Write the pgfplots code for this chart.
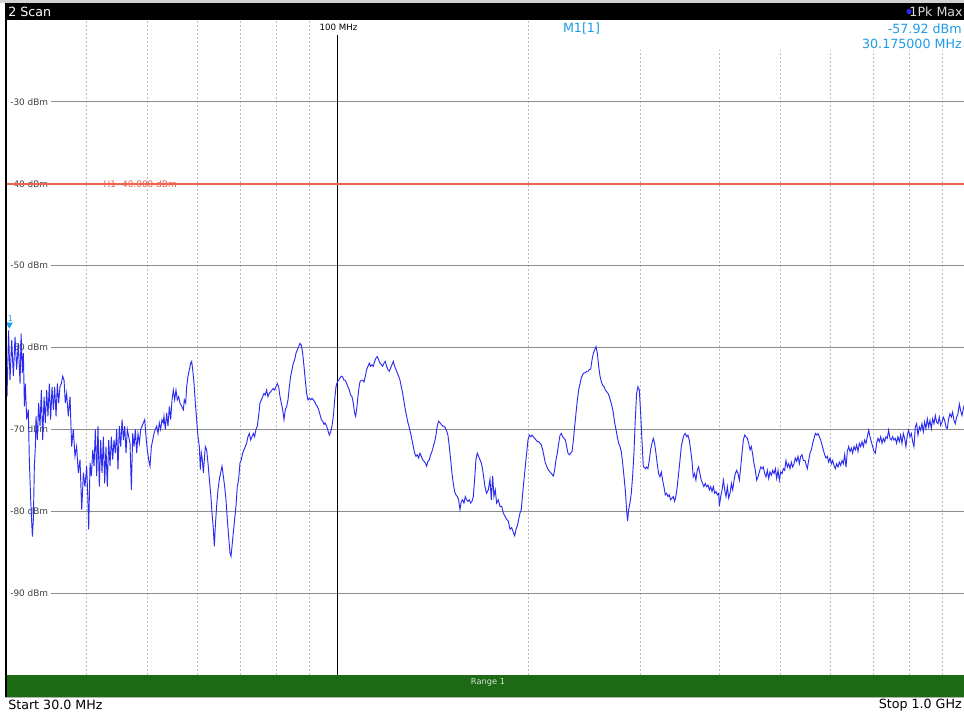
\documentclass[border=0pt]{standalone}
\usepackage{pgfplots}
\pgfplotsset{compat=1.18}
\usepackage{fontspec}
\setmainfont{DejaVu Sans}
\definecolor{trace}{HTML}{2B2BF2}
\definecolor{gridgray}{HTML}{8C8C8C}
\definecolor{dashgray}{HTML}{BDBDBD}
\definecolor{hlred}{RGB}{242,96,78}
\definecolor{txtred}{RGB}{232,90,72}
\definecolor{mkblue}{HTML}{1E9BE6}
\definecolor{greenbar}{HTML}{1C6A14}
\newcommand{\lblf}{\fontsize{6.7}{8}\selectfont}
\newcommand{\mainf}{\fontsize{9.5}{11}\selectfont}
\begin{document}
\begin{tikzpicture}
\path[use as bounding box] (-5.25pt,-27pt) rectangle (717.75pt,506.25pt);
\clip (-5.25pt,-27pt) rectangle (717.75pt,506.25pt);
\fill[white] (-5.25pt,-27pt) rectangle (717.75pt,506.25pt);
\begin{axis}[at={(0pt,0pt)}, anchor=south west, scale only axis,
  width=717.75pt, height=491.25pt,
  xmode=log, xmin=30, xmax=975, ymin=-100, ymax=-20,
  axis line style={draw=none},
  xtick={40,50,60,70,80,90,200,300,400,500,600,700,800,900},
  ytick={-90,-80,-70,-60,-50,-30},
  xticklabels={}, yticklabels={},
  major tick length=0pt, minor tick num=0,
  xmajorgrids, ymajorgrids,
  x grid style={dash pattern=on 1.5pt off 1.5pt, color=dashgray, line width=0.5pt},
  y grid style={color=gridgray, line width=0.9pt},
  clip=true]
% white box behind marker readout
\fill[white] (axis cs:204.8,-23.7) rectangle (axis cs:975,-20);
% level labels
\foreach \v in {-30,-40,-50,-60,-70,-80,-90}{
  \edef\tmp{\noexpand\node[anchor=west, fill=white, inner xsep=2.25pt, inner ysep=1pt, font=\noexpand\lblf, text=black!75] at (axis cs:30,\v) {\v\space dBm};}
  \tmp
}
\node[anchor=west, inner xsep=0pt, font=\lblf, text=txtred] at (axis cs:42.6,-40) {H1 -40.000 dBm};
% 100 MHz line
\addplot[color=black, line width=0.75pt] coordinates {(100,-100) (100,-21.8)};
\end{axis}
% overlay axis: display line and trace drawn on top of the labels
\begin{axis}[at={(0pt,0pt)}, anchor=south west, scale only axis,
  width=717.75pt, height=491.25pt,
  xmode=log, xmin=30, xmax=975, ymin=-100, ymax=-20, hide axis, clip=true]
\addplot[color=hlred, line width=1.4pt] coordinates {(30,-40) (975,-40)};
\addplot[color=trace, line width=0.7pt] coordinates {
(30.00,-66.0) (30.175,-57.9) (30.33,-64.0) (30.52,-59.1) (30.70,-63.5) (30.89,-58.7) (31.07,-62.7) (31.26,-59.5) (31.46,-64.4) (31.58,-58.3) (31.73,-63.1) (31.84,-60.7) (31.96,-67.2) (32.07,-64.4) (32.23,-68.8) (32.42,-67.6) (32.54,-73.7) (32.70,-78.6) (32.90,-83.1) (33.02,-81.0) (33.14,-74.5) (33.26,-72.1) (33.34,-68.4) (33.50,-71.3) (33.66,-66.8) (33.83,-69.6) (33.99,-65.2) (34.16,-71.3) (34.33,-66.0) (34.49,-69.2) (34.66,-65.2) (34.82,-68.4) (34.99,-64.4) (35.16,-68.8) (35.34,-64.8) (35.51,-67.6) (35.68,-64.8) (35.86,-68.4) (36.03,-64.4) (36.20,-66.8) (36.38,-64.8) (36.56,-64.4) (36.74,-63.5) (36.92,-64.0) (37.09,-66.8) (37.27,-65.6) (37.50,-68.4) (37.73,-66.0) (37.96,-72.1) (38.19,-70.0) (38.42,-73.3) (38.65,-72.1) (38.89,-75.3) (39.13,-73.7) (39.37,-79.8) (39.61,-75.3) (39.84,-77.0) (40.08,-74.5) (40.23,-77.8) (40.38,-82.2) (40.58,-74.1) (40.78,-75.7) (40.98,-72.5) (41.17,-74.5) (41.37,-70.0) (41.57,-75.7) (41.77,-69.6) (41.97,-77.0) (42.18,-71.3) (42.39,-75.3) (42.59,-70.9) (42.80,-76.6) (43.00,-72.1) (43.21,-77.0) (43.43,-71.3) (43.64,-74.5) (43.85,-70.9) (44.07,-73.7) (44.28,-71.3) (44.49,-72.9) (44.71,-70.0) (44.92,-74.9) (45.14,-69.6) (45.37,-72.1) (45.59,-68.8) (45.81,-71.3) (46.03,-69.6) (46.25,-72.9) (46.47,-70.0) (46.70,-70.9) (46.93,-71.7) (47.16,-77.4) (47.39,-70.5) (47.62,-72.1) (47.85,-70.0) (48.08,-72.9) (48.31,-70.5) (48.55,-71.7) (48.79,-70.0) (49.03,-69.6) (49.27,-69.2) (49.51,-68.8) (49.74,-70.9) (49.98,-72.5) (50.23,-73.7) (50.47,-74.5) (50.72,-72.1) (50.96,-71.3) (51.21,-70.5) (51.46,-70.0) (51.71,-69.6) (51.96,-70.5) (52.21,-69.2) (52.46,-70.0) (52.72,-68.8) (52.97,-69.2)
(53.10,-68.4) (53.36,-70.0) (53.62,-68.0) (53.88,-69.6) (54.15,-67.2) (54.41,-68.8) (54.68,-66.4) (54.94,-65.2) (55.21,-66.4) (55.47,-65.2) (55.74,-66.4) (56.02,-66.0) (56.29,-66.8) (56.63,-67.2) (56.98,-67.6) (57.18,-66.4) (57.46,-66.8) (57.67,-64.8) (57.95,-63.5) (58.24,-62.7) (58.52,-61.9) (58.73,-61.7) (58.95,-62.7) (59.24,-64.4) (59.52,-66.8) (59.80,-68.8) (60.10,-70.9) (60.39,-72.1) (60.61,-74.9) (60.83,-72.9) (61.05,-73.7) (61.28,-75.3) (61.50,-73.7) (61.72,-72.1) (62.02,-72.5) (62.32,-74.1) (62.63,-76.1) (62.93,-77.8) (63.24,-80.2) (63.55,-82.2) (63.78,-84.3) (64.01,-81.8) (64.31,-79.4) (64.63,-77.4) (64.95,-76.1) (65.27,-75.3) (65.58,-74.5) (65.90,-75.7) (66.22,-77.0) (66.54,-78.6) (66.86,-81.0) (67.19,-83.1) (67.52,-85.1) (67.77,-85.5) (68.01,-84.3) (68.34,-82.6) (68.67,-81.0) (69.00,-79.4) (69.33,-77.0) (69.68,-76.1) (70.02,-74.1) (70.36,-73.7) (70.70,-72.9) (71.05,-72.5) (71.39,-72.1) (71.73,-71.7) (72.08,-70.9) (72.43,-70.5) (72.79,-71.3) (73.14,-70.9) (73.50,-70.5) (73.85,-70.9) (74.21,-70.0) (74.57,-69.6) (74.93,-68.4) (75.30,-66.8) (75.67,-66.4) (76.04,-66.0) (76.41,-65.6) (76.77,-65.8) (77.14,-65.2) (77.52,-66.0) (77.90,-65.6) (78.29,-65.4) (78.66,-65.2) (79.05,-65.0) (79.43,-65.2) (79.81,-64.8) (80.19,-64.4) (80.59,-64.8) (80.98,-66.0) (81.38,-66.8) (81.78,-67.6) (82.17,-68.8) (82.56,-67.6) (82.96,-67.2) (83.37,-66.4) (83.78,-64.8) (84.19,-63.5) (84.60,-62.7) (85.01,-61.9) (85.42,-61.5) (85.83,-60.7) (86.24,-60.3) (86.67,-59.9) (87.09,-59.5) (87.51,-59.7) (87.94,-60.7) (88.37,-62.3) (88.79,-64.0) (89.22,-65.6) (89.66,-66.4) (90.10,-66.2) (90.54,-66.4) (90.98,-66.2) (91.43,-66.4) (91.87,-66.6) (92.30,-67.0) (92.75,-67.2) (93.21,-67.6) (93.67,-68.2) (94.12,-68.8) (94.58,-69.0) (95.04,-69.4)
(95.38,-69.2) (95.95,-69.6) (96.54,-70.3) (96.90,-70.7) (97.37,-70.3) (97.84,-69.6) (98.32,-68.4) (98.80,-66.4) (99.27,-64.8) (99.75,-64.2) (100.24,-64.0) (100.73,-63.7) (101.23,-63.5) (101.72,-63.6) (102.21,-64.0) (102.71,-64.0) (103.19,-64.4) (103.70,-64.8) (104.21,-65.2) (104.71,-65.8) (105.22,-66.0) (105.73,-66.8) (106.24,-68.0) (106.63,-68.4) (107.01,-67.6) (107.40,-66.4) (107.80,-65.2) (108.33,-64.2) (108.86,-64.0) (109.39,-64.0) (109.92,-64.2) (110.45,-63.5) (110.98,-62.7) (111.52,-62.3) (112.06,-61.9) (112.61,-62.3) (113.16,-62.1) (113.71,-62.3) (114.26,-61.7) (114.81,-61.3) (115.36,-61.1) (115.93,-61.5) (116.50,-61.9) (117.07,-62.1) (117.64,-62.3) (118.21,-61.9) (118.78,-61.7) (119.35,-62.3) (119.93,-62.7) (120.52,-62.9) (121.11,-62.5) (121.71,-62.1) (122.30,-61.7) (122.89,-62.3) (123.48,-62.7) (124.07,-63.1) (124.69,-63.5) (125.30,-64.0) (125.91,-64.8) (126.52,-65.6) (127.13,-66.6) (127.74,-67.6) (128.36,-68.4) (128.99,-69.2) (129.62,-69.8) (130.26,-70.5) (130.89,-71.3) (131.52,-72.1) (132.16,-72.9) (132.79,-73.3) (133.43,-73.1) (134.09,-73.5) (134.75,-72.9) (135.41,-73.3) (136.07,-73.7) (136.73,-73.9) (137.39,-74.1) (138.05,-74.5) (138.72,-73.9) (139.40,-73.7) (140.09,-73.1) (140.77,-72.7) (141.46,-72.1) (142.14,-71.5) (142.82,-70.7) (143.50,-69.6) (144.21,-69.0) (144.92,-69.2) (145.63,-69.4) (146.33,-69.6) (147.04,-69.6) (147.75,-69.8) (148.46,-70.2) (149.18,-70.7) (149.92,-72.1) (150.65,-73.7) (151.38,-75.3) (152.11,-76.6) (152.85,-77.6) (153.59,-78.0) (154.33,-78.2) (155.09,-78.6) (155.85,-79.8) (156.61,-78.8) (157.37,-78.6) (158.14,-79.0) (158.90,-78.2) (159.66,-78.6) (160.44,-78.8) (161.23,-78.6) (162.02,-79.0) (162.81,-78.8) (163.60,-78.2) (164.39,-76.1) (165.18,-73.7) (165.97,-72.9) (166.79,-73.3) (167.61,-73.7) (168.43,-74.1) (169.25,-74.9) (170.07,-76.1)
(170.68,-77.0) (171.71,-77.8) (172.76,-77.4) (173.82,-76.1) (174.67,-78.6) (175.52,-75.7) (176.37,-78.2) (177.22,-77.4) (178.07,-79.0) (179.16,-78.6) (180.26,-79.4) (181.37,-79.4) (182.46,-80.2) (183.56,-80.6) (184.71,-81.0) (185.84,-81.2) (186.98,-82.2) (188.12,-82.0) (189.27,-82.6) (190.19,-83.0) (191.10,-82.2) (192.01,-81.8) (192.97,-81.0) (193.91,-80.2) (194.85,-79.8) (195.80,-77.8) (196.75,-76.1) (197.70,-74.5) (198.64,-72.9) (199.62,-71.3) (200.60,-70.7) (201.58,-70.9) (202.57,-70.7) (203.55,-70.9) (204.52,-71.1) (205.51,-71.3) (206.50,-71.5) (207.53,-71.5) (208.54,-71.7) (209.56,-71.9) (210.58,-72.5) (211.60,-73.3) (212.61,-74.1) (213.64,-74.5) (214.68,-74.9) (215.73,-75.1) (216.80,-75.3) (217.85,-75.5) (218.90,-75.7) (219.96,-74.9) (221.02,-73.7) (222.08,-72.9) (223.18,-71.7) (224.28,-70.7) (225.39,-70.5) (226.47,-70.9) (227.56,-71.1) (228.66,-71.3) (229.76,-72.1) (230.86,-72.9) (232.00,-73.1) (233.16,-72.9) (234.29,-72.7) (235.43,-71.3) (236.56,-69.6) (237.70,-68.0) (238.84,-66.4) (240.02,-65.2) (241.20,-64.4) (242.37,-63.7) (243.56,-63.3) (244.73,-63.1) (245.91,-63.1) (247.09,-62.9) (248.30,-62.9) (249.52,-62.7) (250.75,-62.6) (251.97,-61.5) (253.19,-60.7) (254.42,-60.3) (255.63,-59.9) (256.86,-60.7) (258.13,-62.3) (259.40,-63.5) (260.66,-64.2) (261.92,-64.6) (263.20,-64.8) (264.47,-65.2) (265.73,-65.4) (267.04,-65.6) (268.35,-66.0) (269.66,-66.6) (270.97,-67.2) (272.28,-68.0) (273.59,-69.2) (274.90,-70.0) (276.19,-70.9) (277.56,-71.7) (278.92,-72.1) (280.28,-72.7) (281.64,-74.1) (282.99,-75.7) (284.35,-77.4) (285.73,-79.8) (286.75,-81.2) (287.84,-79.8) (289.25,-79.0) (290.66,-77.8) (292.07,-75.7) (293.48,-72.9) (294.89,-68.8) (296.31,-65.6) (297.76,-64.8) (299.23,-65.2) (300.70,-68.0) (302.15,-71.3) (303.61,-74.5)
(305.83,-74.8) (307.29,-74.6) (308.78,-74.8) (310.30,-73.8) (311.82,-72.5) (313.35,-71.7) (314.87,-71.1) (316.38,-71.7) (317.91,-72.9) (319.44,-74.2) (321.02,-75.4) (322.60,-75.8) (324.17,-75.2) (325.75,-76.2) (327.32,-77.0) (328.89,-78.0) (330.47,-77.8) (332.09,-78.2) (333.72,-78.0) (335.35,-78.6) (336.97,-78.4) (338.60,-78.2) (340.23,-78.8) (341.85,-78.2) (343.54,-77.0) (345.24,-75.4) (346.93,-73.8) (348.62,-72.1) (350.32,-71.3) (352.00,-70.7) (353.69,-70.5) (355.41,-70.9) (357.14,-70.7) (358.89,-71.3) (360.64,-72.5) (362.39,-73.8) (364.14,-75.8) (365.90,-75.4) (367.64,-76.2) (369.45,-75.0) (371.28,-74.6) (373.10,-75.4) (374.92,-76.2) (376.74,-76.6) (378.56,-77.0) (380.38,-76.6) (382.20,-77.0) (384.21,-76.8) (386.10,-77.4) (387.99,-77.0) (389.87,-77.6) (391.76,-77.0) (393.66,-77.8) (395.53,-77.6) (397.47,-78.0) (399.44,-77.8) (400.41,-79.4) (402.37,-78.2) (404.33,-77.4) (406.28,-76.2) (408.25,-77.4) (410.21,-78.2) (412.19,-77.0) (414.22,-78.4) (416.25,-77.8) (418.28,-76.6) (420.32,-77.4) (422.36,-76.2) (424.39,-75.4) (426.43,-75.0) (428.51,-75.4) (430.62,-76.2) (432.72,-74.6) (434.83,-72.9) (436.93,-71.3) (439.04,-70.7) (441.16,-70.9) (443.28,-71.1) (445.47,-71.7) (447.65,-72.5) (449.83,-72.1) (452.02,-73.1) (454.22,-74.2) (456.40,-75.0) (458.59,-76.2) (460.84,-75.8) (463.10,-75.2) (465.37,-74.6) (467.64,-74.8) (469.90,-74.6) (472.17,-75.4) (474.44,-75.8) (476.73,-75.0) (479.08,-76.0) (481.43,-75.2) (483.78,-75.6) (486.13,-75.0) (488.49,-75.4) (490.84,-74.8) (493.20,-76.0) (495.61,-75.0) (498.05,-76.2) (500.49,-75.2) (502.92,-75.4) (505.35,-74.8) (507.79,-75.0) (510.24,-73.8) (512.69,-74.6) (515.22,-74.2) (517.74,-74.8) (520.27,-74.0) (522.79,-74.6) (525.30,-74.2) (527.82,-73.5) (530.40,-73.9) (533.05,-73.3) (535.66,-74.2) (538.25,-73.3) (540.87,-73.1) (543.48,-73.8)
(546.76,-73.8) (549.38,-74.4) (551.37,-74.8) (554.10,-73.8) (556.82,-72.9) (559.54,-72.5) (562.26,-71.7) (564.98,-71.1) (567.70,-70.5) (570.43,-70.7) (573.22,-70.5) (576.03,-70.9) (578.85,-71.3) (581.66,-71.9) (584.48,-72.5) (587.29,-73.1) (590.13,-73.5) (592.97,-73.3) (595.90,-74.0) (598.83,-73.5) (601.75,-74.2) (604.68,-73.8) (607.60,-74.4) (610.52,-74.8) (613.46,-74.2) (616.45,-74.6) (619.48,-74.0) (622.51,-74.4) (625.55,-73.8) (628.58,-74.2) (631.61,-73.1) (634.66,-74.6) (637.71,-72.7) (640.87,-72.1) (644.01,-72.7) (647.15,-72.3) (650.30,-72.9) (653.44,-72.1) (656.59,-72.5) (659.74,-71.9) (662.99,-72.7) (666.25,-71.7) (669.50,-72.1) (672.75,-71.5) (676.00,-72.1) (679.27,-71.3) (682.53,-71.7) (685.82,-70.9) (689.22,-70.1) (692.59,-70.9) (695.97,-71.5) (699.35,-72.1) (702.74,-72.7) (706.11,-72.9) (709.51,-71.7) (713.00,-71.1) (716.50,-71.5) (720.01,-70.9) (723.51,-71.7) (727.01,-71.1) (730.52,-71.5) (734.03,-70.9) (737.56,-71.1) (741.19,-70.1) (744.82,-71.1) (748.45,-71.3) (752.07,-70.9) (755.70,-71.3) (759.33,-71.1) (763.04,-71.7) (766.77,-70.9) (770.54,-71.5) (774.30,-70.7) (778.07,-71.7) (781.84,-70.5) (785.63,-71.1) (789.40,-72.1) (793.20,-70.7) (797.10,-70.1) (801.00,-70.9) (804.91,-70.5) (808.82,-71.5) (812.73,-72.1) (816.64,-69.7) (820.60,-69.3) (824.61,-70.7) (828.65,-69.7) (832.70,-70.1) (836.74,-69.3) (840.79,-70.3) (844.83,-69.1) (848.87,-69.9) (853.04,-68.7) (857.25,-69.7) (861.47,-68.9) (865.68,-69.9) (869.90,-68.7) (874.06,-69.3) (878.29,-68.3) (882.51,-69.1) (886.82,-69.3) (891.18,-68.5) (895.54,-69.5) (899.90,-69.1) (904.26,-68.5) (908.63,-68.9) (912.99,-69.7) (917.40,-69.9) (921.92,-68.7) (926.44,-68.1) (930.95,-68.5) (935.47,-67.9) (939.97,-68.9) (944.49,-69.3) (949.08,-68.5) (953.78,-68.1) (958.46,-66.9) (963.15,-67.7) (967.83,-68.3) (972.51,-67.5) (976,-67.0)
};
\end{axis}
\begin{axis}[at={(0pt,0pt)}, anchor=south west, scale only axis,
  width=717.75pt, height=491.25pt,
  xmode=log, xmin=30, xmax=975, ymin=-100, ymax=-20, hide axis, clip=false]
\addplot[only marks, mark=triangle*, mark size=2.6pt, color=mkblue, mark options={rotate=180}] coordinates {(30.25,-57.2)};
\end{axis}
\begin{scope}[x=0.75pt,y=0.75pt]
% top strip and title bar
\fill[gray!35] (-7,675) rectangle (957,672);
\fill[black] (-2,672) rectangle (957,655);
\node[anchor=west, inner sep=0pt, text=white, font=\mainf] at (1,663.5) {2 Scan};
\fill[trace] (902,663.5) circle (2.6);
\node[anchor=east, inner sep=0pt, text=gray!30, font=\mainf] at (956,663.5) {1Pk Max};
% left frame
\fill[black] (-2,672) rectangle (0,-22);
% bottom line of the diagram
\draw[gray, line width=0.75pt] (0,0) -- (957,0);
% green range bar
\fill[greenbar] (0,-0.4) rectangle (957,-22);
\node[inner sep=0pt, text=gray!25, font=\fontsize{6.2}{7}\selectfont] at (481,-7.5) {Range 1};
% status bar
\fill[white] (-7,-22) rectangle (957,-36);
\draw[gray!60, line width=0.5pt] (-2,-22.5) -- (957,-22.5);
\node[anchor=west, inner sep=0pt, text=black, font=\mainf] at (1,-30) {Start 30.0 MHz};
\node[anchor=east, inner sep=0pt, text=black, font=\mainf] at (955,-30) {Stop 1.0 GHz};
% readouts
\node[inner sep=0pt, text=black, font=\fontsize{6.5}{8}\selectfont] at (331.5,648) {100 MHz};
\node[inner sep=0pt, text=mkblue, font=\mainf] at (574.5,646) {M1[1]};
\node[anchor=east, inner sep=0pt, text=mkblue, font=\mainf] at (955,646) {-57.92 dBm};
\node[anchor=east, inner sep=0pt, text=mkblue, font=\mainf] at (955,631) {30.175000 MHz};
\node[inner sep=0pt, text=mkblue, font=\fontsize{6}{7}\selectfont] at (3.5,356) {1};
\end{scope}
\end{tikzpicture}
\end{document}
